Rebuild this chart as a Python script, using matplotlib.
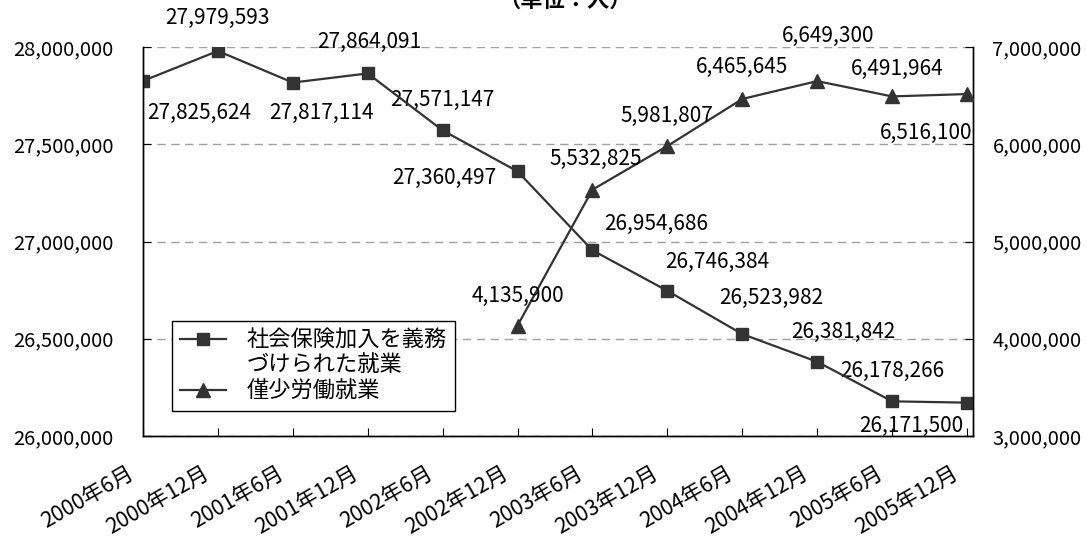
import numpy as np
import matplotlib
matplotlib.use('Agg')
from matplotlib import pyplot as plt
from matplotlib.lines import Line2D
from matplotlib.ticker import FuncFormatter, MultipleLocator
from matplotlib.transforms import ScaledTranslation

plt.rcParams['font.family'] = ['Noto Sans CJK JP', 'DejaVu Sans']

months = ['2000年6月', '2000年12月', '2001年6月', '2001年12月', '2002年6月', '2002年12月',
          '2003年6月', '2003年12月', '2004年6月', '2004年12月', '2005年6月', '2005年12月']
insured = [27825624, 27979593, 27817114, 27864091, 27571147, 27360497,
           26954686, 26746384, 26523982, 26381842, 26178266, 26171500]
minijob = [np.nan, np.nan, np.nan, np.nan, np.nan, 4135900,
           5532825, 5981807, 6465645, 6649300, 6491964, 6516100]

# label offsets in pixels (dx, dy)
insured_off = [(56, -32), (0, 33), (29, -30), (2, 31), (0, 30), (-73, -7),
               (64, 26), (50, 29), (29, 36), (26, 30), (0, 30), (-56, -23)]
minijob_off = [None, None, None, None, None, (0, 30),
               (3, 31), (0, 30), (0, 32), (11, 45), (5, 27), (-41, -39)]

FS = 14.5
dark = '#333333'
fmt = FuncFormatter(lambda v, p: '{:,.0f}'.format(v))

fig = plt.figure(figsize=(10.87, 5.41), dpi=100)
fig.subplots_adjust(left=143/1087, right=973/1087, bottom=1-436/541, top=1-47/541)
ax = fig.add_subplot(111)
ax2 = ax.twinx()

x = np.arange(len(months))
l1, = ax.plot(x, insured, color=dark, lw=1.6, marker='s', ms=9, mfc=dark, mec=dark, zorder=3)
l2, = ax2.plot(x, minijob, color=dark, lw=1.6, marker='^', ms=10, mfc=dark, mec=dark, zorder=3)

for i in range(len(x)):
    ax.annotate('{:,}'.format(insured[i]), (x[i], insured[i]), xytext=insured_off[i],
                textcoords='offset pixels', ha='center', va='center', fontsize=FS + 0.5, zorder=1)
    if minijob_off[i] is not None:
        ax2.annotate('{:,}'.format(minijob[i]), (x[i], minijob[i]), xytext=minijob_off[i],
                     textcoords='offset pixels', ha='center', va='center', fontsize=FS + 0.5)

ax.set_xlim(0, 11.08)
ax.set_ylim(26000000, 28000000)
ax2.set_ylim(3000000, 7000000)
ax.yaxis.set_major_locator(MultipleLocator(500000))
ax2.yaxis.set_major_locator(MultipleLocator(1000000))
ax.yaxis.set_major_formatter(fmt)
ax2.yaxis.set_major_formatter(fmt)

ax.set_xticks(x)
ax.set_xticklabels(months, rotation=30, ha='right', va='top', rotation_mode='anchor')
ax.tick_params(axis='x', direction='in', length=6, pad=16, labelsize=15.5)
ax.tick_params(axis='y', direction='in', length=6, pad=21, labelsize=FS)
ax2.tick_params(axis='y', direction='in', length=6, pad=14, labelsize=FS)
shift = ScaledTranslation(-12/72, -3/72, fig.dpi_scale_trans)
for lab in ax.get_xticklabels():
    lab.set_transform(lab.get_transform() + shift)

ax.grid(axis='y', color='#a0a0a0', linestyle=(0, (6, 4)), lw=1)
ax.set_axisbelow(True)
for a in (ax, ax2):
    a.spines['top'].set_visible(False)
    for s in ('left', 'right', 'bottom'):
        a.spines[s].set_color('black')
        a.spines[s].set_linewidth(1)

blank = Line2D([], [], linestyle='none')
h1 = Line2D([], [], color=dark, lw=1.6, marker='s', ms=9, mfc=dark, mec=dark)
h2 = Line2D([], [], color=dark, lw=1.6, marker='^', ms=10, mfc=dark, mec=dark)
leg = ax2.legend([h1, blank, h2], ['社会保険加入を義務', 'づけられた就業', '僅少労働就業'],
                 loc='upper left', bbox_to_anchor=(0.035, 0.296), borderaxespad=0, fontsize=16,
                 handlelength=2.1, handletextpad=0.9, labelspacing=0.12,
                 borderpad=0.35, fancybox=False, framealpha=1)
leg.get_frame().set_edgecolor('black')
leg.get_frame().set_linewidth(1)

fig.text(0.52, 0.987, '（単位：人）', ha='center', va='baseline', fontsize=16, fontweight='bold')

plt.savefig('out.png', dpi=100)
plt.close()
